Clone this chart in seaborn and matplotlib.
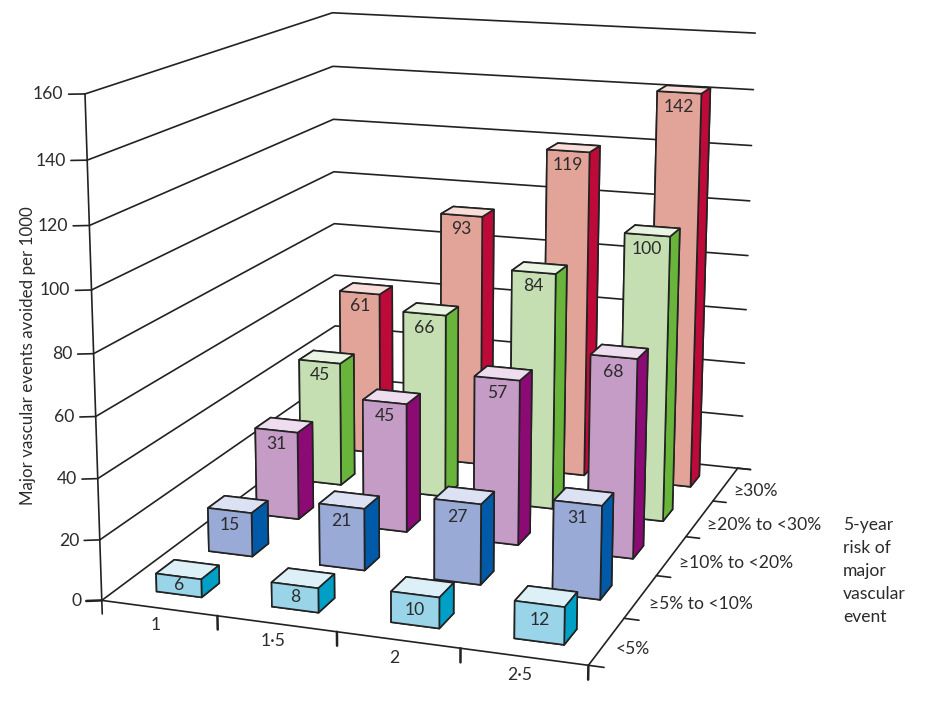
import matplotlib
matplotlib.use('Agg')
import matplotlib.pyplot as plt
from mpl_toolkits.mplot3d import proj3d
import seaborn as sns

# intensity of LDL reduction (x) and baseline risk group (y)
ldl_labels = ['1', '1·5', '2', '2·5']
risk_labels = ['<5%', '≥5% to <10%', '≥10% to <20%', '≥20% to <30%', '≥30%']
z_ticks = [0, 20, 40, 60, 80, 100, 120, 140, 160]

risk_lt5 = [6, 8, 10, 12]
risk_5_10 = [15, 21, 27, 31]
risk_10_20 = [31, 45, 57, 68]
risk_20_30 = [45, 66, 84, 100]
risk_ge30 = [61, 93, 119, 142]
events = [risk_lt5, risk_5_10, risk_10_20, risk_20_30, risk_ge30]

# front, top, side colour of each risk group
palette = [
    ('#9AD4E8', '#DDF0F8', '#00A0C6'),
    ('#9AAAD6', '#DCE2F3', '#005AA8'),
    ('#C49CC6', '#EEDDEE', '#8C0A73'),
    ('#C5DFB3', '#EAF4E2', '#69B53C'),
    ('#E2A399', '#F8DDD9', '#BE0A38'),
]

W, H = 925, 707
BAR_X, BAR_W = 0.322, 0.395
BAR_Y, BAR_D = 0.323, 0.337
LINE = '#222222'
TEXT = '#2b2b2b'
FS = 12.6

sns.set_theme(style='white')
plt.rcParams['font.family'] = ['Lato', 'DejaVu Sans']

fig = plt.figure(figsize=(W / 100, H / 100), dpi=100)
ax = fig.add_axes([0.4711 - 0.5 * H / W, 0.5614 - 0.5, H / W, 1], projection='3d')
ax.view_init(14.01, -70.878, -0.14)
ax.set_proj_type('persp', focal_length=0.6476)
ax.set_box_aspect((0.9882, 1.2428, 1), zoom=1.2426)
ax.computed_zorder = False
ax.set_axis_off()
ax.set_xlim(0, 4, view_margin=0)
ax.set_ylim(0, 5, view_margin=0)
ax.set_zlim(0, 160, view_margin=0)
M = ax.get_proj()


def line3d(xs, ys, zs, lw=1.2):
    ax.plot(xs, ys, zs, color=LINE, lw=lw, zorder=1, clip_on=False)


def label3d(x, y, z, text, **kw):
    # flat text placed at the projected position of a 3d point
    px, py, _ = proj3d.proj_transform(x, y, z, M)
    ax.text2D(px, py, text, transform=ax.transData, fontsize=FS, color=TEXT, va='center', **kw)


# walls
for z in z_ticks:
    line3d([0, 0, 4.12 if z == 0 else 4.03], [0, 5, 5], [z, z, z])
    line3d([0, -0.11], [0, -0.052], [z, z], lw=1.8 if z == 0 else 1.2)
    label3d(-0.145, -0.068, z, str(z), ha='right')
line3d([0, 0], [0, 0], [-4.5, 160])

# floor edges and ticks
line3d([0, 4, 4], [0, 0, 5], [0, 0, 0])
for i in range(1, 5):
    line3d([i, i], [0, 0], [0, -4.5], lw=1.8)
for j in range(0, 6):
    line3d([4, 4.12], [j, j], [0, 0])
for i, label in enumerate(ldl_labels):
    label3d(i + 0.47, 0, -5.8, label, ha='center')
for j, label in enumerate(risk_labels):
    label3d(4.07, j + 0.5, -2.2, label, ha='left')

# bars, back row first so the front rows cover them
for j in reversed(range(len(events))):
    front, top, side = palette[j]
    for i, value in enumerate(events[j]):
        ax.bar3d(i + BAR_X, j + BAR_Y, 0, BAR_W, BAR_D, value, shade=False,
                 color=[top, top, front, front, side, side],
                 edgecolor=LINE, linewidth=1.2, zorder=10 + 2 * (4 - j))
        label3d(i + BAR_X + BAR_W / 2, j + BAR_Y, max(value - 5, value / 2), str(value),
                ha='center', zorder=11 + 2 * (4 - j))

ax.set_xlim(0, 4, view_margin=0)
ax.set_ylim(0, 5, view_margin=0)
ax.set_zlim(0, 160, view_margin=0)

fig.text(28 / W, 1 - 356 / H, 'Major vascular events avoided per 1000', rotation=90,
         ha='center', va='center', fontsize=12.2, color=TEXT)
fig.text(843 / W, 1 - 571 / H, '5-year\nrisk of\nmajor\nvascular\nevent', ha='left', va='center',
         fontsize=FS, color=TEXT, linespacing=1.55)

fig.savefig('out.png', dpi=100)
plt.close(fig)
